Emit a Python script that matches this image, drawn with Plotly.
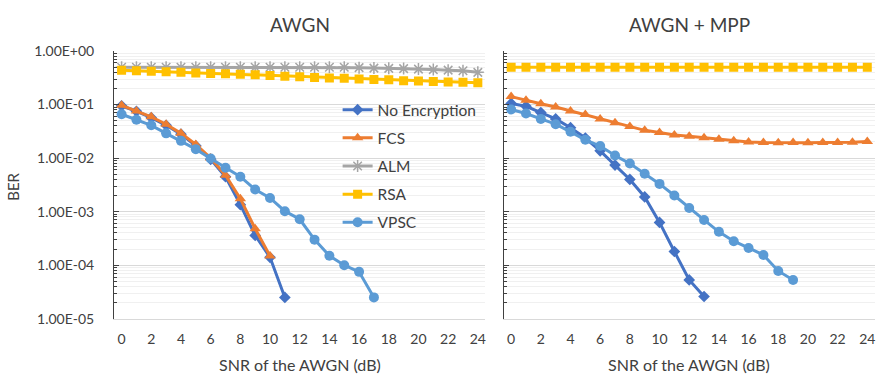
import plotly.graph_objects as go

snr = list(range(25))
xticks = list(range(0, 25, 2))
ytick_vals = [1, 1e-1, 1e-2, 1e-3, 1e-4, 1e-5]
ytick_text = ["1.00E+00", "1.00E-01", "1.00E-02", "1.00E-03", "1.00E-04", "1.00E-05"]

series_names = ["No Encryption", "FCS", "ALM", "RSA", "VPSC"]

# Left panel: AWGN
noenc_L = [0.095, 0.075, 0.057, 0.041, 0.028, 0.017, 0.0095, 0.0045, 0.00135, 0.00036, 0.00014, 0.000025]
fcs_L = [0.097, 0.076, 0.059, 0.043, 0.029, 0.018, 0.0100, 0.0048, 0.00175, 0.00048, 0.000149]
alm_L = [0.50, 0.50, 0.50, 0.50, 0.50, 0.50, 0.50, 0.50, 0.50, 0.50, 0.50, 0.50, 0.50,
         0.50, 0.50, 0.50, 0.49, 0.48, 0.475, 0.47, 0.46, 0.45, 0.44, 0.43, 0.40]
rsa_L = [0.44, 0.43, 0.42, 0.41, 0.40, 0.39, 0.38, 0.375, 0.37, 0.36, 0.35, 0.34, 0.33,
         0.32, 0.315, 0.31, 0.30, 0.295, 0.29, 0.28, 0.275, 0.27, 0.265, 0.26, 0.255]
vpsc_L = [0.066, 0.052, 0.041, 0.029, 0.021, 0.0147, 0.0098, 0.0066, 0.0045, 0.0026, 0.0018,
          0.00102, 0.00072, 0.0003, 0.00015, 0.0001, 0.000075, 0.000025]

# Right panel: AWGN + MPP
noenc_R = [0.105, 0.093, 0.071, 0.054, 0.037, 0.0237, 0.0137, 0.0074, 0.004, 0.00188, 0.00063,
           0.00018, 0.000053, 0.000026]
fcs_R = [0.141, 0.12, 0.104, 0.09, 0.076, 0.065, 0.054, 0.046, 0.039, 0.033, 0.030, 0.027, 0.0255,
         0.024, 0.0225, 0.021, 0.020, 0.0195, 0.0193, 0.0195, 0.0193, 0.0195, 0.0195, 0.0197, 0.0205]
rsa_R = [0.5] * 25
vpsc_R = [0.081, 0.068, 0.054, 0.043, 0.031, 0.022, 0.0168, 0.0112, 0.0079, 0.0051, 0.0033, 0.002,
          0.00117, 0.0007, 0.00042, 0.00028, 0.00021, 0.000155, 0.000078, 0.000053]

colors = {"No Encryption": "#4472C4", "FCS": "#ED7D31", "ALM": "#A5A5A5", "RSA": "#FFC000", "VPSC": "#5B9BD5"}
markers = {
    "No Encryption": dict(symbol="diamond", size=9),
    "FCS": dict(symbol="triangle-up", size=10),
    "ALM": dict(symbol="asterisk-open", size=10),
    "RSA": dict(symbol="square", size=9),
    "VPSC": dict(symbol="circle", size=10),
}

FONT = "Lato"
TXT = "#404040"

fig = go.Figure()


def add(name, ys, xa, ya, showlegend):
    c = colors[name]
    m = dict(markers[name])
    m["color"] = c
    if m["symbol"] == "asterisk-open":
        m["line"] = dict(color=c, width=1.5)
    fig.add_trace(go.Scatter(
        x=snr[:len(ys)], y=ys, name=name, mode="lines+markers",
        line=dict(color=c, width=3), marker=m,
        xaxis=xa, yaxis=ya, showlegend=showlegend, legendgroup=name,
    ))


add("No Encryption", noenc_L, "x", "y", True)
add("FCS", fcs_L, "x", "y", True)
add("ALM", alm_L, "x", "y", True)
add("RSA", rsa_L, "x", "y", True)
add("VPSC", vpsc_L, "x", "y", True)

add("No Encryption", noenc_R, "x2", "y2", False)
add("FCS", fcs_R, "x2", "y2", False)
add("RSA", rsa_R, "x2", "y2", False)
add("VPSC", vpsc_R, "x2", "y2", False)

W, H = 879, 385
xL = [114.3 / W, 485.8 / W]
xR = [504.3 / W, 875.7 / W]
yD = [(H - 324) / H, (H - 44) / H]

minor_vals = [m * 10 ** e for e in range(-5, 0) for m in range(2, 10)]

xcommon = dict(range=[-0.5, 24.5], tickvals=xticks, ticks="", showline=True, linecolor="#d9d9d9",
               linewidth=1, showgrid=False, zeroline=False,
               tickfont=dict(family=FONT, size=14, color=TXT), ticklabelstandoff=8)
ycommon = dict(type="log", range=[-5, 0], tickvals=ytick_vals, ticktext=ytick_text, ticks="inside",
               ticklen=5, tickcolor="#404040", tickwidth=1, showline=True, linecolor="#404040",
               linewidth=1.25, showgrid=True, gridcolor="#d9d9d9", gridwidth=1, zeroline=False,
               tickfont=dict(family=FONT, size=14, color=TXT),
               minor=dict(tickvals=minor_vals, ticks="inside", ticklen=3, tickcolor="#404040",
                          showgrid=True, gridcolor="#f0f0f0", gridwidth=1))
topcommon = dict(range=[-0.5, 24.5], side="top", tickvals=[i + 0.5 for i in range(24)],
                 ticks="inside", ticklen=5, tickcolor="#d9d9d9", showticklabels=False,
                 showline=False, showgrid=False, zeroline=False)


def ann(text, x, y, size, angle=0):
    return dict(text=text, x=x / W, y=(H - y) / H, xref="paper", yref="paper", showarrow=False,
                xanchor="center", yanchor="middle", textangle=angle,
                font=dict(family=FONT, size=size, color=TXT))


fig.update_layout(
    width=W, height=H,
    margin=dict(l=0, r=0, t=0, b=0),
    paper_bgcolor="white", plot_bgcolor="white",
    xaxis=dict(domain=xL, anchor="y", **xcommon),
    xaxis2=dict(domain=xR, anchor="y2", **xcommon),
    xaxis3=dict(overlaying="x", anchor="y", **topcommon),
    xaxis4=dict(overlaying="x2", anchor="y2", **topcommon),
    yaxis=dict(domain=yD, anchor="x", ticklabelstandoff=16, **ycommon),
    yaxis2=dict(domain=yD, anchor="x2", showticklabels=False, **ycommon),
    legend=dict(x=338 / W, y=(H - 88) / H, xanchor="left", yanchor="top",
                bgcolor="rgba(0,0,0,0)", font=dict(family=FONT, size=15.5, color=TXT),
                tracegroupgap=5, itemwidth=30),
    annotations=[
        ann("AWGN", 300, 16, 19),
        ann("AWGN + MPP", 690, 16, 19),
        ann("SNR of the AWGN (dB)", 300, 372, 16),
        ann("SNR of the AWGN (dB)", 690, 372, 16),
        ann("BER", 13, 186, 15, -90),
    ],
)

fig.write_html("out.html")
